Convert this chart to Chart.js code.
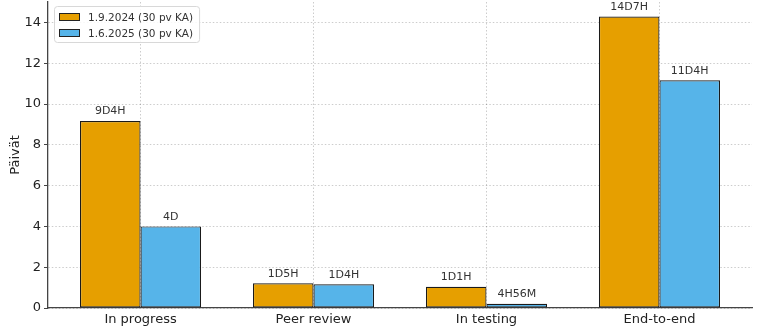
<!DOCTYPE html>
<html>
<head>
<meta charset="utf-8">
<script src="https://cdn.jsdelivr.net/npm/chart.js@4.4.1/dist/chart.umd.min.js"></script>
<style>
  html, body { margin: 0; padding: 0; background: #fff; }
  #wrap { width: 762px; height: 336px; position: relative; }
</style>
</head>
<body>
<div id="wrap"><canvas id="chart"></canvas></div>
<script>
const categories = ["In progress", "Peer review", "In testing", "End-to-end"];
const seriesNames = ["1.9.2024 (30 pv KA)", "1.6.2025 (30 pv KA)"];
const values2024 = [9.167, 1.208, 1.042, 14.292];
const values2025 = [4.0, 1.167, 0.206, 11.167];
const labels2024 = ["9D4H", "1D5H", "1D1H", "14D7H"];
const labels2025 = ["4D", "1D4H", "4H56M", "11D4H"];
const yTicks = [0, 2, 4, 6, 8, 10, 12, 14];

const FONT = "'DejaVu Sans', sans-serif";
const barColors = ["#E69F00", "#56B4E9"];
const barLabels = [labels2024, labels2025];

// categories sit on integer positions of a numeric x axis, as in the original plot
const toPoints = vals => vals.map((v, i) => ({ x: i, y: v }));

const valueLabels = {
    id: "valueLabels",
    afterDatasetsDraw(chart) {
        const ctx = chart.ctx;
        ctx.save();
        ctx.font = "11px " + FONT;
        ctx.fillStyle = "#333";
        ctx.textAlign = "center";
        ctx.textBaseline = "bottom";
        chart.data.datasets.forEach((ds, di) => {
            chart.getDatasetMeta(di).data.forEach((bar, i) => {
                ctx.fillText(barLabels[di][i], bar.x, bar.y - 4);
            });
        });
        ctx.restore();
    }
};

const innerLegend = {
    id: "innerLegend",
    afterDraw(chart) {
        const ctx = chart.ctx;
        const x = chart.chartArea.left + 6, y = chart.chartArea.top + 4;
        ctx.save();
        ctx.font = "10.5px " + FONT;
        let w = 0;
        chart.data.datasets.forEach(ds => { w = Math.max(w, ctx.measureText(ds.label).width); });
        const bw = w + 40, bh = 36;
        ctx.fillStyle = "rgba(255,255,255,0.85)";
        ctx.strokeStyle = "#d8d8d8";
        ctx.lineWidth = 1;
        ctx.beginPath();
        ctx.roundRect(x + 0.5, y + 0.5, bw, bh, 3);
        ctx.fill();
        ctx.stroke();
        chart.data.datasets.forEach((ds, i) => {
            const cy = y + 11 + i * 16;
            ctx.fillStyle = ds.backgroundColor;
            ctx.fillRect(x + 5, cy - 4, 21, 8);
            ctx.strokeStyle = "#222";
            ctx.strokeRect(x + 5.5, cy - 3.5, 20, 7);
            ctx.fillStyle = "#333";
            ctx.textBaseline = "middle";
            ctx.fillText(ds.label, x + 34, cy + 1);
        });
        ctx.restore();
    }
};

new Chart(document.getElementById("chart"), {
    type: "bar",
    data: {
        datasets: [
            { label: seriesNames[0], data: toPoints(values2024), backgroundColor: barColors[0] },
            { label: seriesNames[1], data: toPoints(values2025), backgroundColor: barColors[1] }
        ]
    },
    options: {
        responsive: true,
        maintainAspectRatio: false,
        animation: false,
        layout: { padding: { top: 2, right: 10, left: 0, bottom: 0 } },
        datasets: {
            bar: {
                borderColor: "#1a1a1a",
                borderWidth: 1.2,
                borderSkipped: false,
                categoryPercentage: 0.7,
                barPercentage: 1.0
            }
        },
        plugins: {
            legend: { display: false },
            tooltip: { enabled: false }
        },
        scales: {
            x: {
                type: "linear",
                min: -0.535,
                max: 3.535,
                offset: false,
                afterBuildTicks(scale) { scale.ticks = categories.map((c, i) => ({ value: i })); },
                grid: {
                    offset: false,
                    color: "rgba(0,0,0,0.2)",
                    drawTicks: false
                },
                border: { color: "#444", width: 1.3, dash: [1.5, 2] },
                ticks: {
                    color: "#222",
                    font: { family: FONT, size: 13 },
                    padding: 4,
                    callback: v => categories[v]
                },
                afterFit(scale) { scale.height = 28; scale.paddingLeft = 0; scale.paddingRight = 0; }
            },
            y: {
                min: 0,
                max: 15,
                afterBuildTicks(scale) { scale.ticks = yTicks.map(v => ({ value: v })); },
                grid: {
                    color: "rgba(0,0,0,0.2)",
                    tickColor: "#444",
                    tickBorderDash: [],
                    tickLength: 4
                },
                border: { color: "#444", width: 1.3, dash: [1.5, 2] },
                ticks: { color: "#222", font: { family: FONT, size: 13 }, padding: 3 },
                title: { display: true, text: "Päivät", color: "#222", font: { family: FONT, size: 13 }, padding: { top: 8, bottom: 0 } },
                afterFit(scale) { scale.width = 48; scale.paddingTop = 0; scale.paddingBottom = 0; }
            }
        }
    },
    plugins: [valueLabels, innerLegend]
});
</script>
</body>
</html>
